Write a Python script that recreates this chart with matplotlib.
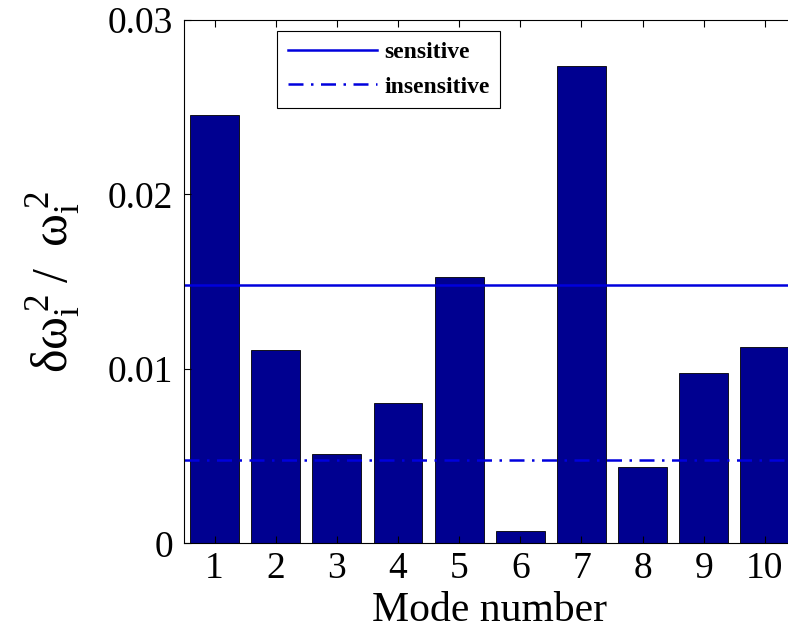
import numpy as np
import matplotlib
matplotlib.use('Agg')
import matplotlib.pyplot as plt

plt.rcParams['font.family'] = ['Liberation Serif', 'DejaVu Serif']
plt.rcParams['mathtext.fontset'] = 'custom'
plt.rcParams['mathtext.rm'] = 'Liberation Serif'
plt.rcParams['mathtext.it'] = 'Liberation Serif'

# datos
modos = [1, 2, 3, 4, 5, 6, 7, 8, 9, 10]
delta = [0.02457, 0.01109, 0.00514, 0.00806, 0.01529, 0.00072, 0.02739, 0.00438, 0.00979, 0.01123]
umbral_sensible = 0.0148
umbral_insensible = 0.0048

fig = plt.figure(figsize=(7.88, 6.38), dpi=100)
ax = fig.add_axes([0.2335, 0.1484, 0.776, 0.8203])

ax.bar(modos, delta, width=0.8, color='#000090', edgecolor='black', linewidth=0.6)
l1, = ax.plot([0.5, 10.5], [umbral_sensible]*2, color='#0000dd', linewidth=1.8, label='sensitive')
l2, = ax.plot([0.5, 10.5], [umbral_insensible]*2, color='#0000dd', linewidth=1.8,
              linestyle=(0, (6, 3, 1, 3)), label='insensitive')

ax.set_xlim(0.5, 10.5)
ax.set_ylim(0, 0.03)
ax.set_xticks(modos)
ax.set_yticks([0, 0.01, 0.02, 0.03])
ax.set_yticklabels(['0', '0.01', '0.02', '0.03'])
ax.tick_params(direction='in', length=5, width=0.8, labelsize=27, top=True, right=True)
ax.tick_params(axis='x', pad=6)
ax.tick_params(axis='y', pad=8)

ax.set_xlabel('Mode number', fontsize=30, labelpad=4)
ax.set_ylabel(r'$\mathrm{\delta\omega}_{\mathrm{i}}^{\,2}\;/\;\;\mathrm{\omega}_{\mathrm{i}}^{\,2}$',
              fontsize=36, labelpad=18)

leg = ax.legend(handles=[l1, l2], loc='upper left', bbox_to_anchor=(0.152, 0.979),
                borderaxespad=0,
                prop={'family': 'Liberation Serif', 'weight': 'bold', 'size': 17},
                frameon=True, fancybox=False, edgecolor='black', framealpha=1,
                handlelength=3.8, handletextpad=0.3, borderpad=0.45, labelspacing=0.55)
leg.get_frame().set_linewidth(0.8)

fig.savefig('out.png', dpi=100)
